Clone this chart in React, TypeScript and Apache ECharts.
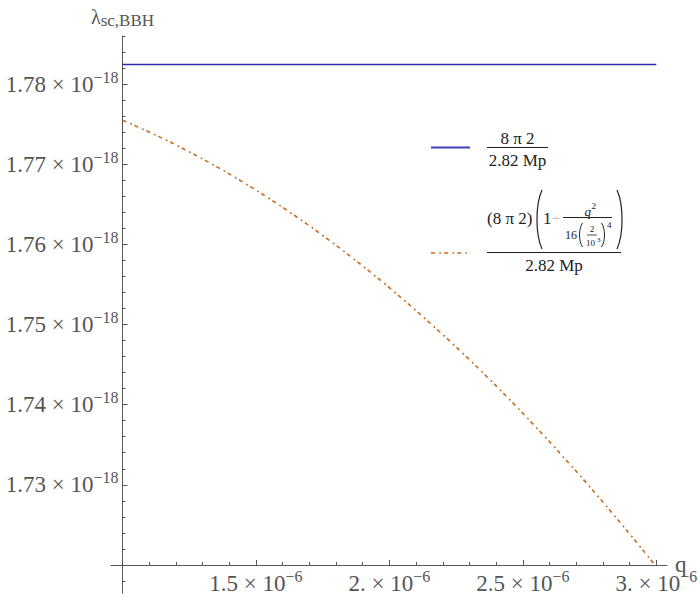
import React, { useEffect, useRef } from "react";
import * as echarts from "echarts";

// ---- data (q in units of 1e-6, lambda in units of 1e-18) ----
const qFlat = [1.0, 3.0];
const lambdaFlat = [1.78245, 1.78245];

const qCorr = [1.0, 1.1, 1.2, 1.3, 1.4, 1.5, 1.6, 1.7, 1.8, 1.9, 2.0, 2.1, 2.2, 2.3, 2.4, 2.5, 2.6, 2.7, 2.8, 2.9, 2.995];
const lambdaCorr = [1.77549, 1.77402, 1.77242, 1.77068, 1.7688, 1.76678, 1.76463, 1.76233, 1.75989, 1.75731, 1.7546, 1.75174, 1.74875, 1.74562, 1.74235, 1.73893, 1.73538, 1.73169, 1.72786, 1.72389, 1.72];

const xMajorTicks = [1.5, 2.0, 2.5, 3.0];
const xTickLabels = ["1.5", "2.", "2.5", "3."];
const xExponent = "−6";
const xMinorTicks = [1.1, 1.2, 1.3, 1.4, 1.6, 1.7, 1.8, 1.9, 2.1, 2.2, 2.3, 2.4, 2.6, 2.7, 2.8, 2.9];
const yMajorTicks = [1.73, 1.74, 1.75, 1.76, 1.77, 1.78];
const yTickLabels = ["1.73", "1.74", "1.75", "1.76", "1.77", "1.78"];
const yExponent = "−18";
const yMinorTicks = [
  1.718, 1.722, 1.724, 1.726, 1.728, 1.732, 1.734, 1.736, 1.738, 1.742, 1.744, 1.746, 1.748,
  1.752, 1.754, 1.756, 1.758, 1.762, 1.764, 1.766, 1.768, 1.772, 1.774, 1.776, 1.778,
  1.782, 1.784, 1.786,
];

// axis origin (where the axes cross) and extents
const Q0 = 1.0;
const L0 = 1.72;
const X_MIN = 0.957;
const X_MAX = 3.04;
const Y_MIN = 1.7165;
const Y_MAX = 1.786;

const FONT = "Liberation Serif";
const AXIS = "#555555";
const LABEL = "#555555";
const BLUE = "#2d2da6";
const BLUE_LEG = "#3d3dbd";
const ORANGE = "#c46c20";
const LEG = "#222222";

const sx = (v: number) => +(v - Q0).toFixed(6);
const sy = (v: number) => +(v - L0).toFixed(6);

function nearestIdx(arr: number[], v: number) {
  let best = 0;
  for (let i = 1; i < arr.length; i++) if (Math.abs(arr[i] - v) < Math.abs(arr[best] - v)) best = i;
  return best;
}

const makeRich = () => ({
  m: { fontFamily: FONT, fontSize: 23, color: LABEL, lineHeight: 30, verticalAlign: "middle" },
  e: { fontFamily: FONT, fontSize: 16, color: LABEL, lineHeight: 16, verticalAlign: "top" },
});

function txt(text: string, x: number, y: number, size: number, opt: any = {}) {
  const font = `${opt.italic ? "italic " : ""}${size}px "${FONT}"`;
  const align = opt.align || "center";
  return {
    type: "text",
    x,
    y,
    silent: true,
    style: {
      text,
      font,
      fill: opt.color || LEG,
      textAlign: align,
      align,
      textVerticalAlign: "middle",
      verticalAlign: "middle",
    },
  };
}
function seg(x1: number, y1: number, x2: number, y2: number, stroke: string, lineWidth: number, dash?: number[]) {
  return {
    type: "line",
    silent: true,
    shape: { x1, y1, x2, y2 },
    style: { stroke, lineWidth, lineDash: dash },
  };
}
function paren(x1: number, y1: number, y2: number, bulge: number, lw: number) {
  return {
    type: "bezierCurve",
    silent: true,
    shape: { x1, y1, x2: x1, y2, cpx1: x1 + bulge, cpy1: y1 + (y2 - y1) * 0.25, cpx2: x1 + bulge, cpy2: y1 + (y2 - y1) * 0.75 },
    style: { stroke: LEG, lineWidth: lw, fill: "none" },
  };
}

const legendGraphics = [
  // item 1
  seg(431, 147.5, 470, 147.5, BLUE_LEG, 2),
  txt("8 π 2", 517.5, 138, 17),
  seg(487, 147.5, 548, 147.5, LEG, 1),
  txt("2.82 Mp", 517.5, 160.5, 17),
  // item 2
  seg(431, 253, 467, 253, ORANGE, 1.6, [4, 4.3, 1.8, 3]),
  txt("(8 π 2)", 487, 218.5, 17, { align: "left" }),
  paren(542, 190, 249, -6.7, 1.2),
  paren(617, 190, 249, 6.7, 1.2),
  txt("1", 543, 218.5, 17, { align: "left" }),
  txt("−", 551.5, 218, 15, { align: "left", color: "#aaaaaa" }),
  seg(563, 217.5, 612, 217.5, LEG, 1),
  txt("q", 591, 211, 13, { align: "right", italic: true }),
  txt("2", 591.5, 206, 9, { align: "left" }),
  txt("16", 571, 235, 12),
  paren(582.5, 223, 247, -4, 1),
  paren(601.5, 223, 247, 4, 1),
  txt("2", 592, 229, 9),
  seg(587, 235, 597, 235, LEG, 0.8),
  txt("10", 590.5, 243, 9),
  txt("3", 597, 239.5, 7, { align: "left" }),
  txt("4", 607, 225, 9, { align: "left" }),
  seg(487, 252.5, 621, 252.5, LEG, 1),
  txt("2.82 Mp", 554, 265.5, 17),
];

// grid edges: left 111, bottom 593; axes cross at x=122.7, y=565.
// With onZero, ECharts keeps labels at the grid edge, so margins are negative.
const option: any = {
  animation: false,
  backgroundColor: "#ffffff",
  textStyle: { fontFamily: FONT },
  grid: { left: 111, right: 33, top: 36, bottom: 5, containLabel: false, outerBoundsMode: "none" },
  xAxis: [
    {
      type: "value",
      min: sx(X_MIN),
      max: sx(X_MAX),
      position: "bottom",
      axisLine: { onZero: true, lineStyle: { color: AXIS, width: 1 } },
      axisTick: { show: true, inside: true, length: 5, customValues: xMajorTicks.map(sx), lineStyle: { color: AXIS, width: 1 } },
      axisLabel: {
        show: true,
        customValues: xMajorTicks.map(sx),
        margin: -24.5,
        fontFamily: FONT,
        color: LABEL,
        hideOverlap: false,
        formatter: (v: number) => `{m|${xTickLabels[nearestIdx(xMajorTicks.map(sx), v)]} × 10}{e|${xExponent}}`,
        rich: makeRich(),
      },
      splitLine: { show: false },
      name: "q",
      nameLocation: "end",
      nameGap: 8,
      nameMoveOverlap: false,
      nameTextStyle: { fontFamily: FONT, fontSize: 23, color: LABEL, padding: [0, 0, 5, 0] },
    },
    {
      type: "value",
      min: sx(X_MIN),
      max: sx(X_MAX),
      position: "bottom",
      axisLine: { onZero: true, show: false },
      axisTick: { show: true, inside: true, length: 3, customValues: xMinorTicks.map(sx), lineStyle: { color: AXIS, width: 1 } },
      axisLabel: { show: false },
      splitLine: { show: false },
    },
  ],
  yAxis: [
    {
      type: "value",
      min: sy(Y_MIN),
      max: sy(Y_MAX),
      position: "left",
      axisLine: { onZero: true, lineStyle: { color: AXIS, width: 1 } },
      axisTick: { show: true, inside: true, length: 5, customValues: yMajorTicks.map(sy), lineStyle: { color: AXIS, width: 1 } },
      axisLabel: {
        show: true,
        customValues: yMajorTicks.map(sy),
        margin: -7.5,
        fontFamily: FONT,
        color: LABEL,
        formatter: (v: number) => `{m|${yTickLabels[nearestIdx(yMajorTicks.map(sy), v)]} × 10}{e|${yExponent}}`,
        rich: makeRich(),
      },
      splitLine: { show: false },
      name: "{l|λ}{s|sc,BBH}",
      nameLocation: "end",
      nameGap: 7,
      nameMoveOverlap: false,
      nameTextStyle: {
        fontFamily: FONT,
        rich: {
          l: { fontFamily: FONT, fontSize: 20, color: LABEL, lineHeight: 22, verticalAlign: "top" },
          s: { fontFamily: FONT, fontSize: 17, color: LABEL, lineHeight: 16, verticalAlign: "bottom" },
        },
      },
    },
    {
      type: "value",
      min: sy(Y_MIN),
      max: sy(Y_MAX),
      position: "left",
      axisLine: { onZero: true, show: false },
      axisTick: { show: true, inside: true, length: 3, customValues: yMinorTicks.map(sy), lineStyle: { color: AXIS, width: 1 } },
      axisLabel: { show: false },
      splitLine: { show: false },
    },
  ],
  series: [
    {
      type: "line",
      xAxisIndex: 0,
      yAxisIndex: 0,
      data: qFlat.map((q, i) => [sx(q), sy(lambdaFlat[i])]),
      showSymbol: false,
      symbol: "none",
      lineStyle: { color: BLUE, width: 1.6 },
      z: 3,
    },
    {
      type: "line",
      xAxisIndex: 0,
      yAxisIndex: 0,
      data: qCorr.map((q, i) => [sx(q), sy(lambdaCorr[i])]),
      showSymbol: false,
      symbol: "none",
      lineStyle: { color: ORANGE, width: 1.6, type: [4, 4.3, 1.8, 3] },
      z: 3,
    },
  ],
  graphic: legendGraphics,
};

export default function App() {
  const ref = useRef<HTMLDivElement>(null);
  useEffect(() => {
    const chart = echarts.init(ref.current as HTMLDivElement, null, { renderer: "svg" });
    chart.setOption(option);
    return () => chart.dispose();
  }, []);
  return <div ref={ref} style={{ position: "absolute", left: 0, top: 0, width: 700, height: 598, background: "#fff" }} />;
}
